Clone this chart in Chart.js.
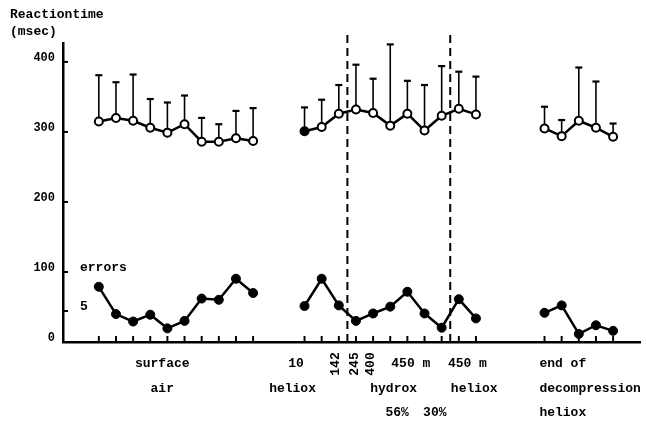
<!DOCTYPE html>
<html>
<head>
<meta charset="utf-8">
<script src="https://cdn.jsdelivr.net/npm/chart.js@4.4.1/dist/chart.umd.min.js"></script>
<style>
  html, body { margin: 0; padding: 0; background: #fff; }
</style>
</head>
<body>
<canvas id="rtChart" width="646" height="421"></canvas>
<script>
// session slots along the x axis (gaps between the three phases)
const slots = [0, 1, 2, 3, 4, 5, 6, 7, 8, 9,
  12, 13, 14, 15, 16, 17, 18, 19, 20, 21, 22,
  26, 27, 28, 29, 30];
// mean reaction time (msec)
const rtMean = [315, 320, 316, 306, 299, 311, 286, 286, 291, 287,
  301, 307, 326, 332, 327, 309, 326, 302, 323, 333, 325,
  305, 294, 316, 306, 293];
// top of the error bar (msec)
const rtUpper = [381, 371, 382, 347, 342, 352, 320, 311, 330, 334,
  335, 346, 367, 396, 376, 425, 373, 367, 394, 386, 379,
  336, 317, 392, 372, 312];
// number of errors
const errors = [8.9, 4.5, 3.3, 4.4, 2.2, 3.4, 7.0, 6.8, 10.2, 7.9,
  5.8, 10.2, 5.9, 3.4, 4.6, 5.7, 8.1, 4.6, 2.3, 6.9, 3.8,
  4.7, 5.9, 1.3, 2.7, 1.8];
const yTicks = [0, 100, 200, 300, 400];
const phaseBreaks = [14.5, 20.5];

const FONT = 'bold 13px "Liberation Mono", "DejaVu Sans Mono", monospace';
const rowY = [364, 389, 413];
const bottomLabels = [
  { text: "surface", x: 3.7, row: 0 },
  { text: "air", x: 3.7, row: 1 },
  { text: "10", x: 11.5, row: 0 },
  { text: "heliox", x: 11.3, row: 1 },
  { text: "450 m", x: 18.2, row: 0 },
  { text: "hydrox", x: 17.2, row: 1 },
  { text: "56%", x: 17.4, row: 2 },
  { text: "30%", x: 19.6, row: 2 },
  { text: "450 m", x: 21.5, row: 0 },
  { text: "heliox", x: 21.9, row: 1 },
  { text: "end of", x: 25.7, row: 0, left: true },
  { text: "decompression", x: 25.7, row: 1, left: true },
  { text: "heliox", x: 25.7, row: 2, left: true }
];
const rotatedLabels = [
  { text: "142", x: 13.8 },
  { text: "245", x: 14.9 },
  { text: "400", x: 15.85 }
];

// build point lists, breaking the line between phases
function withGaps(values) {
  const out = [];
  slots.forEach((s, i) => {
    if (i > 0 && s - slots[i - 1] > 1) out.push({ x: s - 1, y: null });
    out.push({ x: s, y: values[i] });
  });
  return out;
}

const decorPlugin = {
  id: "decor",
  beforeDatasetsDraw(chart) {
    const ctx = chart.ctx;
    const x = chart.scales.x, y = chart.scales.y;
    ctx.save();
    ctx.strokeStyle = "#000";
    // error bars (upward only, with cap)
    slots.forEach((s, i) => {
      const px = x.getPixelForValue(s);
      const top = y.getPixelForValue(rtUpper[i]);
      ctx.lineWidth = 1.6;
      ctx.beginPath();
      ctx.moveTo(px, y.getPixelForValue(rtMean[i]));
      ctx.lineTo(px, top);
      ctx.stroke();
      ctx.lineWidth = 2.2;
      ctx.beginPath();
      ctx.moveTo(px - 3.5, top);
      ctx.lineTo(px + 3.5, top);
      ctx.stroke();
    });
    // dashed phase separators
    ctx.lineWidth = 2;
    ctx.setLineDash([8, 5]);
    phaseBreaks.forEach(b => {
      const px = x.getPixelForValue(b);
      ctx.beginPath();
      ctx.moveTo(px, 35);
      ctx.lineTo(px, chart.chartArea.bottom);
      ctx.stroke();
    });
    ctx.setLineDash([]);
    // inward tick marks
    ctx.lineWidth = 2;
    const bottom = chart.chartArea.bottom, left = chart.chartArea.left;
    slots.forEach(s => {
      const px = x.getPixelForValue(s);
      ctx.beginPath();
      ctx.moveTo(px, bottom);
      ctx.lineTo(px, bottom - 6);
      ctx.stroke();
    });
    yTicks.forEach(v => {
      const py = y.getPixelForValue(v);
      ctx.beginPath();
      ctx.moveTo(left, py);
      ctx.lineTo(left + 5, py);
      ctx.stroke();
    });
    const p5 = chart.scales.y2.getPixelForValue(5);
    ctx.beginPath();
    ctx.moveTo(left, p5);
    ctx.lineTo(left + 5, p5);
    ctx.stroke();
    ctx.restore();
  },
  afterDraw(chart) {
    const ctx = chart.ctx;
    const x = chart.scales.x;
    ctx.save();
    ctx.fillStyle = "#000";
    ctx.font = FONT;
    ctx.textBaseline = "middle";
    ctx.textAlign = "left";
    ctx.fillText("Reactiontime", 10, 15);
    ctx.fillText("(msec)", 10, 32);
    ctx.fillText("errors", 80, 268);
    ctx.fillText("5", 80, 307);
    bottomLabels.forEach(l => {
      ctx.textAlign = l.left ? "left" : "center";
      ctx.fillText(l.text, x.getPixelForValue(l.x), rowY[l.row]);
    });
    rotatedLabels.forEach(l => {
      ctx.save();
      ctx.translate(x.getPixelForValue(l.x), 364);
      ctx.rotate(-Math.PI / 2);
      ctx.textAlign = "center";
      ctx.fillText(l.text, 0, 0);
      ctx.restore();
    });
    ctx.restore();
  }
};

const ctx = document.getElementById("rtChart").getContext("2d");
const chart = new Chart(ctx, {
  type: "line",
  data: {
    datasets: [
      {
        label: "Reaction time",
        data: withGaps(rtMean),
        yAxisID: "y",
        borderColor: "#000",
        borderWidth: 2.5,
        pointRadius: 4,
        pointBorderWidth: 2,
        pointBorderColor: "#000",
        pointBackgroundColor: c => (c.raw && c.raw.x === 12 ? "#000" : "#fff"),
        tension: 0
      },
      {
        label: "errors",
        data: withGaps(errors),
        yAxisID: "y2",
        borderColor: "#000",
        borderWidth: 2.5,
        pointRadius: 4.5,
        pointBorderWidth: 1,
        pointBorderColor: "#000",
        pointBackgroundColor: "#000",
        tension: 0
      }
    ]
  },
  options: {
    responsive: false,
    animation: false,
    layout: { padding: { top: 43, right: 3, left: 0, bottom: 0 } },
    plugins: { legend: { display: false }, tooltip: { enabled: false } },
    scales: {
      x: {
        type: "linear",
        min: -2.09,
        max: 31.57,
        grid: { display: false },
        border: { display: true, color: "#000", width: 2.5 },
        ticks: { display: false },
        afterFit: s => { s.height = 79; }
      },
      y: {
        min: 0,
        max: 427,
        afterBuildTicks: s => { s.ticks = yTicks.map(v => ({ value: v })); },
        grid: { display: false },
        border: { display: true, color: "#000", width: 2.5 },
        ticks: {
          color: "#000",
          padding: 0,
          labelOffset: -4,
          font: { family: '"Liberation Mono", "DejaVu Sans Mono", monospace', size: 12, weight: "bold" }
        },
        afterFit: s => { s.width = 63; }
      },
      y2: {
        display: false,
        min: 0,
        max: 48.2
      }
    }
  },
  plugins: [decorPlugin]
});
</script>
</body>
</html>
